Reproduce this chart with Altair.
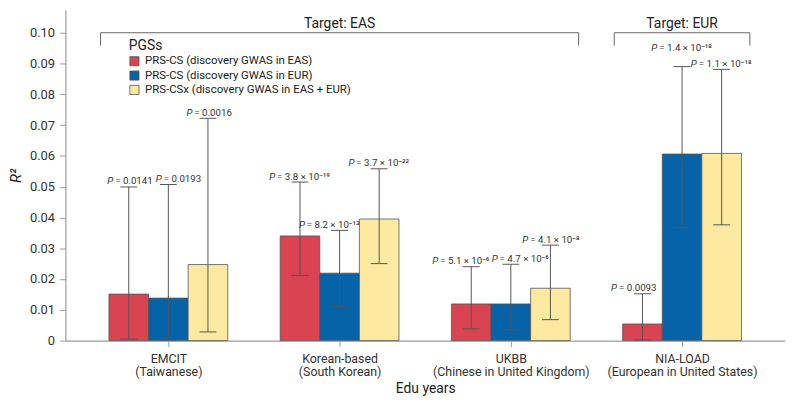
import json
import altair as alt
import pandas as pd

# ---------------- data ----------------
groups = ["EMCIT|(Taiwanese)", "Korean-based|(South Korean)",
          "UKBB|(Chinese in United Kingdom)", "NIA-LOAD|(European in United States)"]
series = ["PRS-CS (discovery GWAS in EAS)", "PRS-CS (discovery GWAS in EUR)",
          "PRS-CSx (discovery GWAS in EAS + EUR)"]
colors = ["#da4352", "#0763a8", "#fde9a0"]

r2_eas = [0.0151, 0.0340, 0.0119, 0.0054]
r2_eur = [0.0138, 0.0219, 0.0119, 0.0606]
r2_csx = [0.0247, 0.0395, 0.0170, 0.0608]

lo_eas = [0.0005, 0.0211, 0.0038, 0.0002]
hi_eas = [0.0499, 0.0515, 0.0240, 0.0152]
lo_eur = [0.0002, 0.0110, 0.0035, 0.0367]
hi_eur = [0.0507, 0.0358, 0.0248, 0.0890]
lo_csx = [0.0028, 0.0250, 0.0068, 0.0376]
hi_csx = [0.0722, 0.0558, 0.0310, 0.0881]

p_eas = ["0.0141", "3.8 × 10⁻¹⁹", "5.1 × 10⁻⁶", "0.0093"]
p_eur = ["0.0193", "8.2 × 10⁻¹³", "4.7 × 10⁻⁶", "1.4 × 10⁻¹⁸"]
p_csx = ["0.0016", "3.7 × 10⁻²²", "4.1 × 10⁻⁸", "1.1 × 10⁻¹⁸"]

targets = ["Target: EAS", "Target: EUR"]
target_first = [0, 3]
target_last = [2, 3]
yticks = [0, 0.01, 0.02, 0.03, 0.04, 0.05, 0.06, 0.07, 0.08, 0.09, 0.10]

# ---------------- layout (pixels / styles) ----------------
W, H = 727, 334
PX_X = 173.0          # px per group
PX_Y = 3110.0         # px per unit of R2
X0_PX = 104.0         # px from plot left to first group centre
BAR_W = 40.0
CAP_W = 17.0
LABEL_GAP = 2.5
LABEL_DX = {(0, 1): 9, (1, 1): -10, (2, 0): -11, (2, 1): 9, (3, 0): -10}
LABEL_DY = {(3, 1): 13}
BRACKET_PAD = 68.5
BRACKET_Y = 0.100
BRACKET_TICK = 13.0
FONT = "Roboto, DejaVu Sans, sans-serif"
PFONT = 9.8
P_GAP = 2.0

def char_w(c):
    if c.isdigit():
        return 0.562 * PFONT
    if c in ".":
        return 0.26 * PFONT
    if c in " \u00a0":
        return 0.25 * PFONT
    if c == "=":
        return 0.55 * PFONT
    if c == "×":
        return 0.5 * PFONT
    return 0.36 * PFONT

vals = [r2_eas, r2_eur, r2_csx]
los = [lo_eas, lo_eur, lo_csx]
his = [hi_eas, hi_eur, hi_csx]
ps = [p_eas, p_eur, p_csx]

rows = []
for g in range(len(groups)):
    for s in range(len(series)):
        off = (s - 1) * BAR_W
        xc = g + off / PX_X
        rest = "=\u00a0" + ps[s][g]
        pw = 0.62 * PFONT + P_GAP + 0.25 * PFONT
        tot = pw + sum(char_w(c) for c in rest)
        anchor = xc + (LABEL_DX.get((g, s), 0) - tot / 2 + pw) / PX_X
        rows.append(dict(
            series=series[s], value=vals[s][g], lo=los[s][g], hi=his[s][g],
            xc=xc, x0=xc - BAR_W / 2 / PX_X, x1=xc + BAR_W / 2 / PX_X,
            c0=xc - CAP_W / 2 / PX_X, c1=xc + CAP_W / 2 / PX_X,
            lx=anchor, ly=his[s][g] + (LABEL_GAP + LABEL_DY.get((g, s), 0)) / PX_Y,
            P="P", rest=rest,
        ))
df = pd.DataFrame(rows)

br = []
for t, a, b in zip(targets, target_first, target_last):
    xa = a - BRACKET_PAD / PX_X
    xb = b + BRACKET_PAD / PX_X
    br.append(dict(label=t, xa=xa, xb=xb, xm=(xa + xb) / 2, y=BRACKET_Y,
                   yt=BRACKET_Y - BRACKET_TICK / PX_Y))
dbr = pd.DataFrame(br)

xscale = alt.Scale(domain=[-X0_PX / PX_X, (W - X0_PX) / PX_X], nice=False, zero=False)
yscale = alt.Scale(domain=[0, H / PX_Y], nice=False, zero=True)

label_expr = "split(" + json.dumps(groups) + "[datum.value], '|')"
xaxis = alt.Axis(values=[0, 1, 2, 3], labelExpr=label_expr, grid=False, tickSize=6,
                 labelPadding=6, labelFontSize=12.5, labelLineHeight=13.5,
                 titleFontSize=14, titlePadding=3, labelOverlap=False, labelFlush=False)
yaxis = alt.Axis(values=yticks, tickCount=11,
                 labelExpr="datum.value == 0 ? '0' : format(datum.value, '.2f')",
                 grid=False, tickSize=6, labelPadding=5, labelFontSize=13, labelOverlap=False,
                 titleFontSize=15, titleFontStyle="italic", titlePadding=6)

XT, YT = "Edu years", "R²"

def X(field):
    return alt.X(field, scale=xscale, axis=xaxis, title=XT)

def Y(field):
    return alt.Y(field, scale=yscale, axis=yaxis, title=YT)

bars = alt.Chart(df).mark_bar(stroke="#555555", strokeWidth=0.8).encode(
    x=X("x0:Q"), x2="x1:Q", y=Y("value:Q"), y2=alt.datum(0),
    color=alt.Color("series:N", scale=alt.Scale(domain=series, range=colors),
                    legend=alt.Legend(title="PGSs", orient="none", legendX=64, legendY=29,
                                      labelLimit=400)),
)

err = alt.Chart(df).mark_rule(color="#555555", strokeWidth=1).encode(
    x=X("xc:Q"), y=Y("lo:Q"), y2="hi:Q")
cap_hi = alt.Chart(df).mark_rule(color="#555555", strokeWidth=1).encode(
    x=X("c0:Q"), x2="c1:Q", y=Y("hi:Q"))
cap_lo = alt.Chart(df).mark_rule(color="#555555", strokeWidth=1).encode(
    x=X("c0:Q"), x2="c1:Q", y=Y("lo:Q"))

lab_p = alt.Chart(df).mark_text(align="right", baseline="alphabetic", fontStyle="italic",
                                fontSize=PFONT, color="#333333", font=FONT,
                                dx=-P_GAP).encode(x=X("lx:Q"), y=Y("ly:Q"), text="P:N")
lab_r = alt.Chart(df).mark_text(align="left", baseline="alphabetic",
                                fontSize=PFONT, color="#333333", font=FONT).encode(
    x=X("lx:Q"), y=Y("ly:Q"), text="rest:N")

br_h = alt.Chart(dbr).mark_rule(color="#666666", strokeWidth=1).encode(
    x=X("xa:Q"), x2="xb:Q", y=Y("y:Q"))
br_l = alt.Chart(dbr).mark_rule(color="#666666", strokeWidth=1).encode(
    x=X("xa:Q"), y=Y("y:Q"), y2="yt:Q")
br_r = alt.Chart(dbr).mark_rule(color="#666666", strokeWidth=1).encode(
    x=X("xb:Q"), y=Y("y:Q"), y2="yt:Q")
br_t = alt.Chart(dbr).mark_text(baseline="alphabetic", dy=-5, fontSize=14, color="#222222",
                                font=FONT).encode(x=X("xm:Q"), y=Y("y:Q"), text="label:N")

chart = alt.layer(bars, err, cap_hi, cap_lo, lab_p, lab_r, br_h, br_l, br_r, br_t).properties(
    width=W, height=H,
    autosize=alt.AutoSizeParams(type="none"),
    padding={"left": 58, "top": 0, "right": 0, "bottom": 55},
).configure_view(stroke=None).configure_axis(
    labelFont=FONT, titleFont=FONT, domainColor="#9a9a9a", tickColor="#9a9a9a",
    labelColor="#333333", titleColor="#222222", titleFontWeight="normal", domainWidth=1.2,
).configure_legend(
    titleFont=FONT, labelFont=FONT, titleFontSize=14, titleFontWeight="normal",
    titleColor="#222222", labelColor="#222222", labelFontSize=11.5, symbolType="square",
    symbolSize=85, symbolStrokeColor="#555555", symbolStrokeWidth=0.8, rowPadding=1.5,
    titlePadding=3, padding=0, labelOffset=5, symbolOpacity=1,
)

chart.save("out.html", embed_options={"renderer": "svg", "actions": False})
